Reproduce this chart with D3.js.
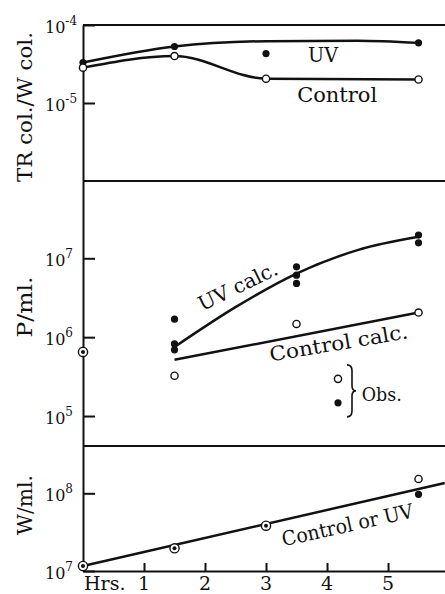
<!DOCTYPE html>
<html>
<head>
<meta charset="utf-8">
<script src="https://cdn.jsdelivr.net/npm/d3@7"></script>
<style>
  body { margin: 0; background: #fff; }
  text { font-family: "DejaVu Serif", serif; fill: #111; }
  .axis path, .axis line { stroke: #111; stroke-width: 2; }
</style>
</head>
<body>
<div id="chart-area"></div>
<script>
// ---- data ----
// top panel: TR col. / W col.
const ratioHours = [0, 1.5, 3, 5.5]
const ratioUV = [3.3e-5, 5.3e-5, 4.3e-5, 5.9e-5]
const ratioControl = [2.84e-5, 4.0e-5, 2.05e-5, 2.0e-5]
const ratioUVCurveHours = [0, 1.5, 3, 4.5, 5.5]
const ratioUVCurve = [3.3e-5, 5.3e-5, 6.2e-5, 6.3e-5, 5.9e-5]

// middle panel: P/ml.
const pStartHour = 0
const pStart = 6.5e5
const pObsHours = [1.5, 3.5, 5.5]
const pUVObs = [[1.69e6, 8.2e5, 6.9e5], [7.8e6, 6.1e6, 4.8e6], [1.97e7, 1.57e7]]
const pControlObs = [3.24e5, 1.47e6, 2.05e6]
const pUVCalcHours = [1.5, 2.5, 3.5, 4.5, 5.5]
const pUVCalc = [7.5e5, 2.4e6, 6.4e6, 1.27e7, 1.87e7]
const pControlCalcHours = [1.5, 5.5]
const pControlCalc = [5.16e5, 2.05e6]

// bottom panel: W/ml.
const wHours = [0, 1.5, 3]
const wBoth = [1.16e7, 1.96e7, 3.83e7]
const wEndHour = 5.5
const wEndControl = 1.53e8
const wEndUV = 9.7e7
const wLineHours = [0, 5.93]
const wLine = [1.16e7, 1.36e8]

// ticks
const xTicks = [1, 2, 3, 4, 5]
const ratioTicks = [-4, -5]
const pTicks = [7, 6, 5]
const wTicks = [8, 7]

const WIDTH = 445
const HEIGHT = 594

const svg = d3.select("#chart-area").append("svg")
  .attr("width", WIDTH)
  .attr("height", HEIGHT)

const x = d3.scaleLinear().domain([0, 5.934]).range([83, 445])
const yR = d3.scaleLog().domain([1e-6, 1e-4]).range([181, 25])
const yP = d3.scaleLog().domain([10 ** 4.62, 10 ** 7.98]).range([446, 181])
const yW = d3.scaleLog().domain([1e7, 10 ** 8.609]).range([571, 446])

// left axes, ticks pointing inward
function leftAxis(y, exps) {
  svg.append("g")
    .attr("class", "axis")
    .attr("transform", `translate(${x(0)},0)`)
    .call(d3.axisLeft(y).tickValues(exps.map(e => 10 ** e)).tickSize(-12).tickSizeOuter(0).tickFormat(""))
  exps.forEach(e => {
    const t = svg.append("text")
      .attr("x", 45)
      .attr("y", y(10 ** e) + 8)
      .attr("font-size", "16px")
    t.append("tspan").text("10")
    t.append("tspan").attr("dy", -8).attr("font-size", "12px").text(e)
  })
}
leftAxis(yR, ratioTicks)
leftAxis(yP, pTicks)
leftAxis(yW, wTicks)

// panel top lines
;[yR, yP, yW].forEach(y => {
  svg.append("line")
    .attr("x1", x(0)).attr("x2", x.range()[1])
    .attr("y1", y.range()[1]).attr("y2", y.range()[1])
    .attr("stroke", "#111").attr("stroke-width", 2)
})

// x axis
svg.append("g")
  .attr("class", "axis")
  .attr("transform", `translate(0,${yW.range()[0]})`)
  .call(d3.axisBottom(x).tickValues(xTicks).tickSize(-8).tickSizeOuter(0).tickFormat(""))

xTicks.forEach(v => {
  svg.append("text")
    .attr("x", x(v))
    .attr("y", 590)
    .attr("text-anchor", "middle")
    .attr("font-size", "19px")
    .text(v)
})
svg.append("text")
  .attr("x", 84)
  .attr("y", 590)
  .attr("font-size", "19px")
  .text("Hrs.")

// y titles
function yTitle(label, cy, len) {
  svg.append("text")
    .attr("transform", `translate(32,${cy}) rotate(-90)`)
    .attr("text-anchor", "middle")
    .attr("font-size", "20px")
    .attr("textLength", len)
    .attr("lengthAdjust", "spacingAndGlyphs")
    .text(label)
}
yTitle("TR col./W col.", 107, 150)
yTitle("P/ml.", 307, 61)
yTitle("W/ml.", 505, 60)

// ---- marks ----
const plot = svg.append("g")

function lineOf(hs, vs, y, curve) {
  const pts = hs.map((h, i) => [h, vs[i]])
  plot.append("path")
    .attr("d", d3.line().x(d => x(d[0])).y(d => y(d[1])).curve(curve)(pts))
    .attr("fill", "none")
    .attr("stroke", "#111")
    .attr("stroke-width", 2.5)
}
function filled(cx, cy) {
  plot.append("circle").attr("cx", cx).attr("cy", cy).attr("r", 3.6).attr("fill", "#111")
}
function open(cx, cy) {
  plot.append("circle").attr("cx", cx).attr("cy", cy).attr("r", 3.6)
    .attr("fill", "#fff").attr("stroke", "#111").attr("stroke-width", 1.4)
}
function both(cx, cy) {
  plot.append("circle").attr("cx", cx).attr("cy", cy).attr("r", 4.6)
    .attr("fill", "#fff").attr("stroke", "#111").attr("stroke-width", 1.4)
  plot.append("circle").attr("cx", cx).attr("cy", cy).attr("r", 2).attr("fill", "#111")
}

// top panel
lineOf(ratioUVCurveHours, ratioUVCurve, yR, d3.curveMonotoneX)
lineOf(ratioHours, ratioControl, yR, d3.curveMonotoneX)
ratioHours.forEach((h, i) => filled(x(h), yR(ratioUV[i])))
ratioHours.forEach((h, i) => open(x(h), yR(ratioControl[i])))

// middle panel
lineOf(pUVCalcHours, pUVCalc, yP, d3.curveMonotoneX)
lineOf(pControlCalcHours, pControlCalc, yP, d3.curveLinear)
pObsHours.forEach((h, i) => pUVObs[i].forEach(v => filled(x(h), yP(v))))
pObsHours.forEach((h, i) => open(x(h), yP(pControlObs[i])))
both(x(pStartHour), yP(pStart))

// bottom panel
lineOf(wLineHours, wLine, yW, d3.curveLinear)
wHours.forEach((h, i) => both(x(h), yW(wBoth[i])))
open(x(wEndHour), yW(wEndControl))
filled(x(wEndHour), yW(wEndUV))

// ---- labels ----
function label(txt, h, v, y, opts = {}) {
  const t = svg.append("text")
    .attr("font-size", opts.size || "20px")
    .attr("text-anchor", opts.anchor || "start")
    .attr("transform", `translate(${x(h)},${y(v)}) rotate(${opts.rot || 0})`)
    .text(txt)
  if (opts.len) t.attr("textLength", opts.len).attr("lengthAdjust", "spacingAndGlyphs")
}
label("UV", 3.69, 3.36e-5, yR, { len: 30 })
label("Control", 3.51, 1.03e-5, yR, { len: 80 })
label("UV calc.", 2.59, 3.69e6, yP, { anchor: "middle", rot: -26, len: 86 })
label("Control calc.", 4.21, 6.9e5, yP, { anchor: "middle", rot: -9.6, len: 140 })
label("Control or UV", 4.36, 3.2e7, yW, { anchor: "middle", rot: -12.5, len: 134 })

// legend
const legendHour = 4.18
const legendOpen = 2.96e5
const legendFilled = 1.47e5
open(x(legendHour), yP(legendOpen))
filled(x(legendHour), yP(legendFilled))
const bx = x(legendHour) + 9
const bTop = yP(legendOpen) - 14
const bBot = yP(legendFilled) + 14
const bMid = (bTop + bBot) / 2
const brace = d3.path()
brace.moveTo(bx, bTop)
brace.quadraticCurveTo(bx + 5, bTop, bx + 5, bTop + 6)
brace.lineTo(bx + 5, bMid - 5)
brace.quadraticCurveTo(bx + 5, bMid, bx + 9, bMid)
brace.quadraticCurveTo(bx + 5, bMid, bx + 5, bMid + 5)
brace.lineTo(bx + 5, bBot - 6)
brace.quadraticCurveTo(bx + 5, bBot, bx, bBot)
svg.append("path").attr("d", brace.toString())
  .attr("fill", "none").attr("stroke", "#111").attr("stroke-width", 1.6)
label("Obs.", 4.57, 1.53e5, yP, { size: "19px", len: 40 })
</script>
</body>
</html>
